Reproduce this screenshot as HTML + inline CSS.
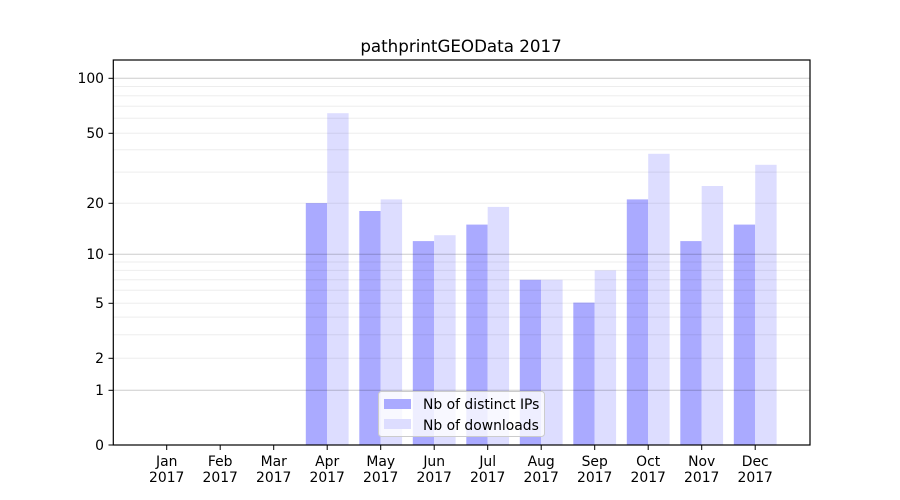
<!DOCTYPE html>
<html><head><meta charset="utf-8"><style>body{margin:0;background:#fff}svg{display:block}text{font-family:"DejaVu Sans","Liberation Sans",sans-serif;fill:#000}</style></head>
<body>
<svg width="900" height="500" viewBox="0 0 900 500" xmlns="http://www.w3.org/2000/svg">
<rect width="900" height="500" fill="#fff"/>
<text x="461" y="52" font-size="16.7" text-anchor="middle">pathprintGEOData 2017</text>
<g fill="#aaaaff">
<rect x="305.8" y="203.1" width="21.4" height="241.9"/>
<rect x="359.3" y="211.0" width="21.4" height="234"/>
<rect x="412.8" y="241.1" width="21.4" height="203.9"/>
<rect x="466.3" y="224.6" width="21.4" height="220.4"/>
<rect x="519.8" y="279.8" width="21.4" height="165.2"/>
<rect x="573.3" y="302.6" width="21.4" height="142.4"/>
<rect x="626.8" y="199.4" width="21.4" height="245.6"/>
<rect x="680.3" y="241.1" width="21.4" height="203.9"/>
<rect x="733.8" y="224.6" width="21.4" height="220.4"/>
</g>
<g fill="#ddddff">
<rect x="327.2" y="113.2" width="21.4" height="331.8"/>
<rect x="380.7" y="199.4" width="21.4" height="245.6"/>
<rect x="434.2" y="235.2" width="21.4" height="209.8"/>
<rect x="487.7" y="206.9" width="21.4" height="238.1"/>
<rect x="541.2" y="279.8" width="21.4" height="165.2"/>
<rect x="594.7" y="270.4" width="21.4" height="174.6"/>
<rect x="648.2" y="153.8" width="21.4" height="291.2"/>
<rect x="701.7" y="186.0" width="21.4" height="259"/>
<rect x="755.2" y="164.8" width="21.4" height="280.2"/>
</g>
<g stroke="rgba(0,0,0,0.07)" stroke-width="1">
<line x1="113" x2="810" y1="358.3" y2="358.3"/>
<line x1="113" x2="810" y1="334.8" y2="334.8"/>
<line x1="113" x2="810" y1="317.1" y2="317.1"/>
<line x1="113" x2="810" y1="303.3" y2="303.3"/>
<line x1="113" x2="810" y1="290.3" y2="290.3"/>
<line x1="113" x2="810" y1="279.8" y2="279.8"/>
<line x1="113" x2="810" y1="270.4" y2="270.4"/>
<line x1="113" x2="810" y1="262" y2="262"/>
<line x1="113" x2="810" y1="203.3" y2="203.3"/>
<line x1="113" x2="810" y1="172.1" y2="172.1"/>
<line x1="113" x2="810" y1="149.8" y2="149.8"/>
<line x1="113" x2="810" y1="133.3" y2="133.3"/>
<line x1="113" x2="810" y1="118.3" y2="118.3"/>
<line x1="113" x2="810" y1="106.2" y2="106.2"/>
<line x1="113" x2="810" y1="95.8" y2="95.8"/>
<line x1="113" x2="810" y1="86.5" y2="86.5"/>
</g>
<g stroke="rgba(0,0,0,0.2)" stroke-width="1">
<line x1="113" x2="810" y1="390.3" y2="390.3"/>
<line x1="113" x2="810" y1="254.3" y2="254.3"/>
<line x1="113" x2="810" y1="78.3" y2="78.3"/>
</g>
<rect x="113.3" y="60" width="696.7" height="385" fill="none" stroke="#000" stroke-width="1.2"/>
<g stroke="#000" stroke-width="1">
<line x1="113.3" x2="108.5" y1="445" y2="445"/>
<line x1="113.3" x2="108.5" y1="390.3" y2="390.3"/>
<line x1="113.3" x2="108.5" y1="358.3" y2="358.3"/>
<line x1="113.3" x2="108.5" y1="303.3" y2="303.3"/>
<line x1="113.3" x2="108.5" y1="254.3" y2="254.3"/>
<line x1="113.3" x2="108.5" y1="203.3" y2="203.3"/>
<line x1="113.3" x2="108.5" y1="133.3" y2="133.3"/>
<line x1="113.3" x2="108.5" y1="78.3" y2="78.3"/>
</g>
<g font-size="13.9" text-anchor="end">
<text x="104" y="450">0</text>
<text x="104" y="395">1</text>
<text x="104" y="363">2</text>
<text x="104" y="308">5</text>
<text x="104" y="259">10</text>
<text x="104" y="208">20</text>
<text x="104" y="138">50</text>
<text x="104" y="83">100</text>
</g>
<g stroke="#000" stroke-width="1">
<line x1="166.7" x2="166.7" y1="445" y2="450"/><line x1="220.2" x2="220.2" y1="445" y2="450"/><line x1="273.7" x2="273.7" y1="445" y2="450"/><line x1="327.2" x2="327.2" y1="445" y2="450"/><line x1="380.7" x2="380.7" y1="445" y2="450"/><line x1="434.2" x2="434.2" y1="445" y2="450"/><line x1="487.7" x2="487.7" y1="445" y2="450"/><line x1="541.2" x2="541.2" y1="445" y2="450"/><line x1="594.7" x2="594.7" y1="445" y2="450"/><line x1="648.2" x2="648.2" y1="445" y2="450"/><line x1="701.7" x2="701.7" y1="445" y2="450"/><line x1="755.2" x2="755.2" y1="445" y2="450"/>
</g>
<g font-size="13.9" text-anchor="middle">
<text x="166.7" y="466">Jan</text><text x="166.7" y="482">2017</text>
<text x="220.2" y="466">Feb</text><text x="220.2" y="482">2017</text>
<text x="273.7" y="466">Mar</text><text x="273.7" y="482">2017</text>
<text x="327.2" y="466">Apr</text><text x="327.2" y="482">2017</text>
<text x="380.7" y="466">May</text><text x="380.7" y="482">2017</text>
<text x="434.2" y="466">Jun</text><text x="434.2" y="482">2017</text>
<text x="487.7" y="466">Jul</text><text x="487.7" y="482">2017</text>
<text x="541.2" y="466">Aug</text><text x="541.2" y="482">2017</text>
<text x="594.7" y="466">Sep</text><text x="594.7" y="482">2017</text>
<text x="648.2" y="466">Oct</text><text x="648.2" y="482">2017</text>
<text x="701.7" y="466">Nov</text><text x="701.7" y="482">2017</text>
<text x="755.2" y="466">Dec</text><text x="755.2" y="482">2017</text>
</g>
<rect x="378.5" y="391.5" width="166" height="45" rx="3" fill="rgba(255,255,255,0.8)" stroke="#ccc" stroke-width="1"/>
<rect x="384" y="399" width="27" height="10" fill="#aaaaff"/>
<rect x="384" y="419" width="27" height="10" fill="#ddddff"/>
<text x="423" y="409" font-size="13.9">Nb of distinct IPs</text>
<text x="423" y="430" font-size="13.9">Nb of downloads</text>
</svg>
</body></html>
